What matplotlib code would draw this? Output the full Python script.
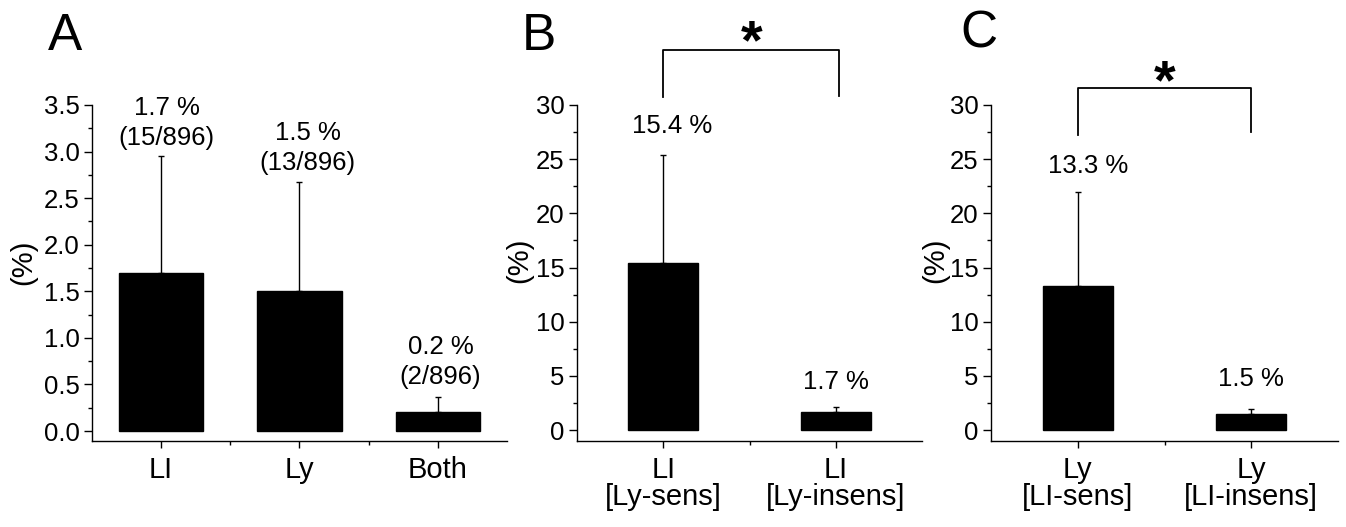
import matplotlib
matplotlib.use('Agg')
import matplotlib.pyplot as plt
from matplotlib.ticker import MultipleLocator, FormatStrFormatter

plt.rcParams['font.family'] = ['Liberation Sans', 'DejaVu Sans']

# panel A
a_cats = ['LI', 'Ly', 'Both']
a_vals = [1.7, 1.5, 0.2]
a_err = [1.25, 1.17, 0.16]
a_notes = ['1.7 %\n(15/896)', '1.5 %\n(13/896)', '0.2 %\n(2/896)']

# panel B
b_cats = ['LI\n[Ly-sens]', 'LI\n[Ly-insens]']
b_vals = [15.4, 1.7]
b_err = [10.0, 0.45]
b_notes = ['15.4 %', '1.7 %']

# panel C
c_cats = ['Ly\n[LI-sens]', 'Ly\n[LI-insens]']
c_vals = [13.3, 1.5]
c_err = [8.7, 0.44]
c_notes = ['13.3 %', '1.5 %']

W, H = 1346, 527
fig = plt.figure(figsize=(W / 100, H / 100), dpi=100)


def make_axes(left, right, top=105, bottom=441):
    return fig.add_axes([left / W, 1 - bottom / H, (right - left) / W, (bottom - top) / H])


def style(ax, ymin, ymax, major, minor):
    ax.set_ylim(ymin, ymax)
    ax.spines['top'].set_visible(False)
    ax.spines['right'].set_visible(False)
    ax.spines['left'].set_linewidth(1.0)
    ax.spines['bottom'].set_linewidth(1.0)
    ax.yaxis.set_major_locator(MultipleLocator(major))
    ax.yaxis.set_minor_locator(MultipleLocator(minor))
    ax.tick_params(axis='y', which='major', length=6, width=1, labelsize=18.5, pad=3)
    ax.tick_params(axis='y', which='minor', length=3, width=1)
    ax.tick_params(axis='x', which='major', length=5, width=1, labelsize=21, pad=6)
    ax.tick_params(axis='x', which='minor', length=3, width=1)


def bars(ax, cats, vals, errs, width):
    x = list(range(1, len(cats) + 1))
    ax.bar(x, vals, width=width, color='black', edgecolor='black')
    ax.errorbar(x, vals, yerr=[[0] * len(errs), errs], fmt='none', ecolor='black',
                elinewidth=1, capsize=2, capthick=1)
    ax.set_xlim(0.5, len(cats) + 0.5)
    ax.set_xticks(x)
    ax.set_xticklabels(cats, linespacing=0.95)
    ax.set_xticks([i + 0.5 for i in x[:-1]], minor=True)
    return x


# ---- A
axA = make_axes(92, 507)
style(axA, -0.107, 3.5, 0.5, 0.25)
bars(axA, a_cats, a_vals, a_err, 0.61)
axA.yaxis.set_major_formatter(FormatStrFormatter('%.1f'))
for x, y, t in zip([1.04, 2.06, 3.02], [3.31, 3.04, 0.74], a_notes):
    axA.text(x, y, t, ha='center', va='center', fontsize=18.5, linespacing=1.3)
axA.set_ylabel('(%)', fontsize=21)
axA.yaxis.set_label_coords(-0.133, 0.533)

# ---- B
axB = make_axes(577, 922)
style(axB, -1.0, 30, 5, 2.5)
bars(axB, b_cats, b_vals, b_err, 0.405)
for x, y, t in zip([1.05, 2.0], [28.1, 4.45], b_notes):
    axB.text(x, y, t, ha='center', va='center', fontsize=18.5)
axB.set_ylabel('(%)', fontsize=21)
axB.yaxis.set_label_coords(-0.128, 0.539)
axB.plot([1, 1, 2.02, 2.02], [30.7, 35.1, 35.1, 30.8], color='black', lw=1.3, clip_on=False)
axB.text(1.51, 35.6, '*', ha='center', va='center', fontsize=40, fontweight='bold')

# ---- C
axC = make_axes(991, 1338)
style(axC, -1.0, 30, 5, 2.5)
bars(axC, c_cats, c_vals, c_err, 0.405)
for x, y, t in zip([1.06, 2.0], [24.4, 4.7], c_notes):
    axC.text(x, y, t, ha='center', va='center', fontsize=18.5)
axC.set_ylabel('(%)', fontsize=21)
axC.yaxis.set_label_coords(-0.12, 0.539)
axC.plot([1, 1, 2.0, 2.0], [27.2, 31.6, 31.6, 27.5], color='black', lw=1.3, clip_on=False)
axC.text(1.50, 31.9, '*', ha='center', va='center', fontsize=40, fontweight='bold')

# panel letters
for px, by, letter in [(48, 50, 'A'), (522, 50, 'B'), (960, 48, 'C')]:
    fig.text(px / W, 1 - by / H, letter, fontsize=37, ha='left', va='baseline')

fig.savefig('out.png', dpi=100)
